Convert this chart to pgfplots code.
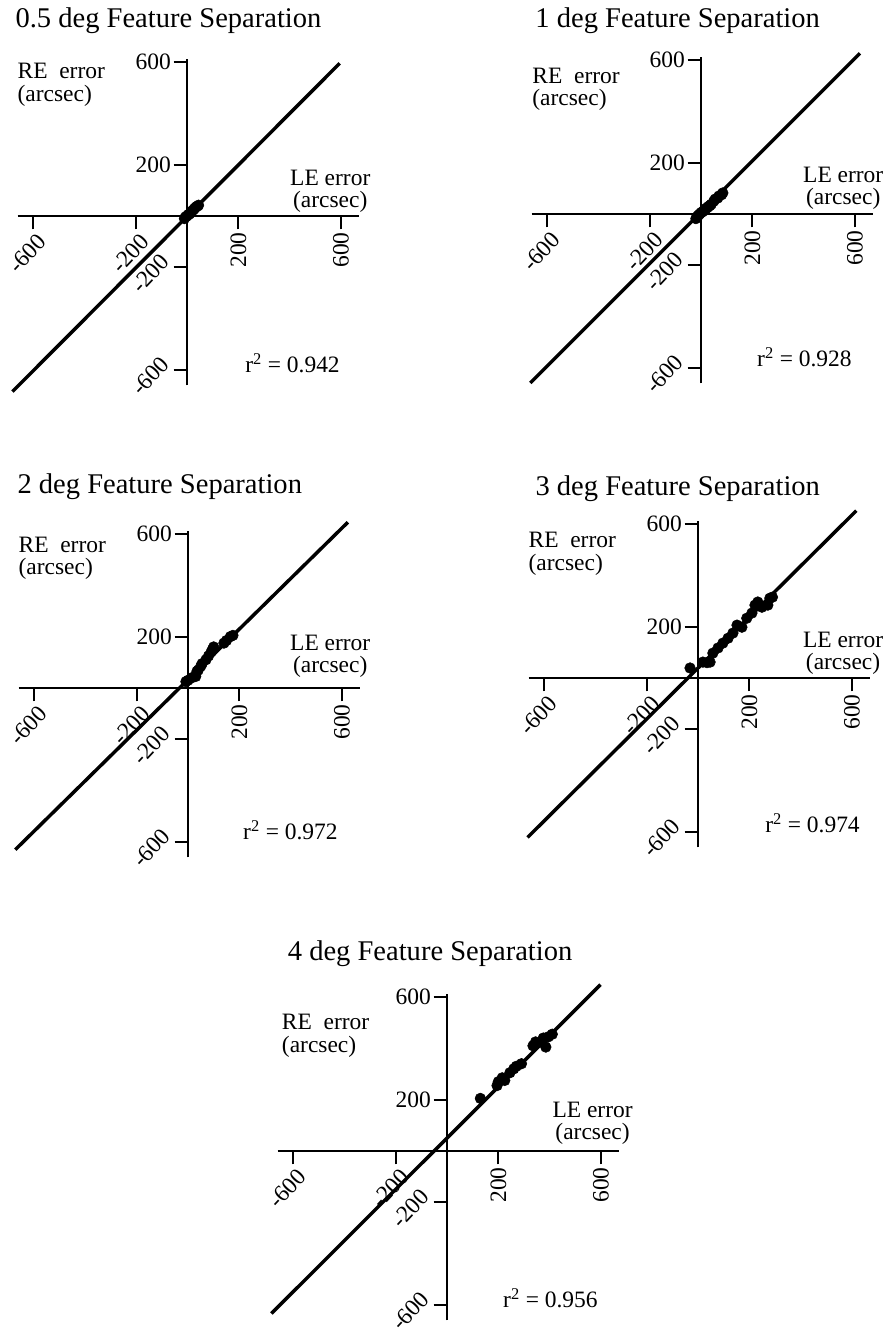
\documentclass[border=0pt]{standalone}
\usepackage{graphicx}
\usepackage{fontspec}
\setmainfont{Liberation Serif}
\usepackage{pgfplots}
\pgfplotsset{compat=1.18}
\pgfplotsset{
  myax/.style={
    x=0.1925pt, y=0.1925pt,
    xmin=-660, xmax=670, ymin=-660, ymax=612,
    axis lines=middle,
    axis line style={-, line width=1.6pt, black},
    anchor=origin, clip=false,
    xtick={200,600}, xticklabels={\rotatebox{90}{200},\rotatebox{90}{600}},
    ytick={200,600}, yticklabels={200,600},
    extra x ticks={-600,-200},
    extra x tick labels={\rotatebox{47}{-600},\rotatebox{47}{-200}},
    extra y ticks={-600,-200},
    extra y tick labels={\rotatebox{47}{-600},\rotatebox{47}{-200}},
    tick align=outside, major tick length=10pt,
    tick style={line width=1.4pt, black},
    tick label style={font=\fontsize{17.6}{18}\selectfont, inner sep=2pt},
    x tick label style={anchor=north},
    y tick label style={anchor=east},
    extra x tick style={x tick label style={xshift=-4pt}},
    extra y tick style={y tick label style={yshift=-4.5pt}},
  },
  dots/.style={only marks, mark=*, mark size=4pt, black, mark options={fill=black}},
  reg/.style={black, line width=2.6pt, no marks},
}
\tikzset{
  lab/.style={font=\fontsize{17.6}{17}\selectfont, inner sep=0pt},
  ttl/.style={font=\fontsize{21.4}{22}\selectfont, inner sep=0pt, anchor=base west},
}
\begin{document}
\begin{tikzpicture}
\path[use as bounding box] (0,0) rectangle (665.25pt,-1000.5pt);

% Panel 1: 0.5 deg
\begin{axis}[myax, at={(140.25pt,-162pt)}]
\addplot[reg] coordinates {(-680,-684) (595,595)};
\addplot[dots] coordinates {(-10,-10) (-5,-3) (0,0) (5,5) (10,8) (15,15) (20,20) (25,24) (30,30) (35,35) (40,38) (45,42)};
\node[ttl] at (axis cs:-669,735) {0.5 deg Feature Separation};
\node[lab, anchor=north west, align=left] at (axis cs:-661,597) {RE~ error\\(arcsec)};
\node[lab, anchor=north west, align=center] at (axis cs:401,181) {LE error\\(arcsec)};
\node[lab, anchor=base west] at (axis cs:226,-611) {r\textsuperscript{2} = 0.942};
\end{axis}

% Panel 2: 1 deg
\begin{axis}[myax, at={(525.75pt,-160.5pt)}]
\addplot[reg] coordinates {(-665,-658) (619,626)};
\addplot[dots] coordinates {(-20,-18) (-15,-10) (-10,-5) (-5,0) (0,5) (5,8) (10,12) (15,15) (20,22) (25,25) (30,30) (35,33) (40,38) (50,50) (55,58) (65,62) (70,70) (80,75) (85,82)};
\node[ttl] at (axis cs:-646,728) {1 deg Feature Separation};
\node[lab, anchor=north west, align=left] at (axis cs:-658,570) {RE~ error\\(arcsec)};
\node[lab, anchor=north west, align=center] at (axis cs:397,185) {LE error\\(arcsec)};
\node[lab, anchor=base west] at (axis cs:218,-595) {r\textsuperscript{2} = 0.928};
\end{axis}

% Panel 3: 2 deg
\begin{axis}[myax, at={(141pt,-516pt)}]
\addplot[reg] coordinates {(-673,-630) (623,646)};
\addplot[dots] coordinates {(-8,25) (0,30) (15,40) (30,45) (35,65) (40,70) (50,85) (55,95) (70,110) (80,125) (90,140) (95,150) (100,160) (140,175) (150,185) (165,200) (175,205)};
\node[ttl] at (axis cs:-665,759) {2 deg Feature Separation};
\node[lab, anchor=north west, align=left] at (axis cs:-661,590) {RE~ error\\(arcsec)};
\node[lab, anchor=north west, align=center] at (axis cs:397,208) {LE error\\(arcsec)};
\node[lab, anchor=base west] at (axis cs:214,-591) {r\textsuperscript{2} = 0.972};
\end{axis}

% Panel 4: 3 deg
\begin{axis}[myax, at={(523.5pt,-508.5pt)}]
\addplot[reg] coordinates {(-664,-621) (617,652)};
\addplot[dots] coordinates {(-31,39) (19,62) (35,60) (47,62) (58,97) (78,117) (97,136) (117,155) (136,175) (152,206) (171,198) (190,233) (210,253) (222,284) (233,296) (249,276) (272,284) (280,311) (290,315)};
\node[ttl] at (axis cs:-634,712) {3 deg Feature Separation};
\node[lab, anchor=north west, align=left] at (axis cs:-661,570) {RE~ error\\(arcsec)};
\node[lab, anchor=north west, align=center] at (axis cs:408,181) {LE error\\(arcsec)};
\node[lab, anchor=base west] at (axis cs:261,-603) {r\textsuperscript{2} = 0.974};
\end{axis}

% Panel 5: 4 deg
\begin{axis}[myax, at={(335.25pt,-863.25pt)}]
\addplot[reg] coordinates {(-684,-633) (598,648)};
\addplot[dots] coordinates {(130,205) (195,255) (200,270) (215,285) (225,275) (245,305) (260,320) (270,330) (290,340) (335,410) (345,425) (385,405) (375,440) (395,445) (410,455)};
\node[ttl] at (axis cs:-621,743) {4 deg Feature Separation};
\node[lab, anchor=north west, align=left] at (axis cs:-644,533) {RE~ error\\(arcsec)};
\node[lab, anchor=north west, align=center] at (axis cs:410,193) {LE error\\(arcsec)};
\node[lab, anchor=base west] at (axis cs:218,-611) {r\textsuperscript{2} = 0.956};
\end{axis}
\end{tikzpicture}
\end{document}
